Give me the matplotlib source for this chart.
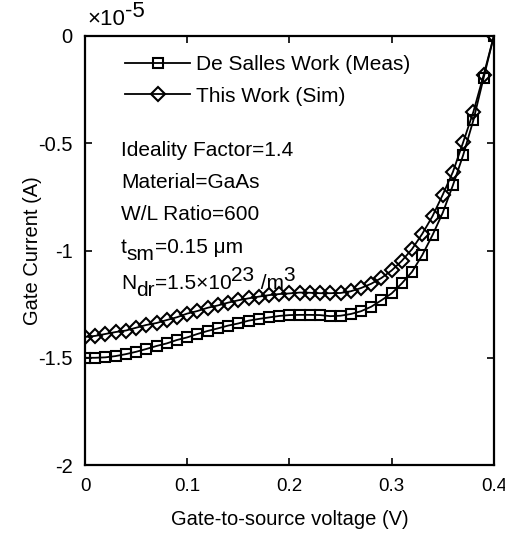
import matplotlib
matplotlib.use("Agg")
import matplotlib.pyplot as plt
from matplotlib.ticker import FuncFormatter

plt.rcParams['font.family'] = ['Liberation Sans', 'DejaVu Sans']
plt.rcParams['font.size'] = 14.5

# gate-to-source voltage (V), 0 to 0.4 in 0.01 steps
vgs = [i / 100 for i in range(41)]

# gate current in units of 1e-5 A
meas = [-1.500, -1.500, -1.498, -1.492, -1.483, -1.472, -1.459, -1.445, -1.433, -1.417,
        -1.405, -1.389, -1.375, -1.363, -1.350, -1.340, -1.327, -1.319, -1.312, -1.305,
        -1.301, -1.300, -1.300, -1.301, -1.306, -1.304, -1.296, -1.283, -1.262, -1.232,
        -1.200, -1.153, -1.099, -1.021, -0.928, -0.824, -0.695, -0.555, -0.392, -0.195,
        0.000]
sim = [-1.403, -1.398, -1.389, -1.380, -1.373, -1.360, -1.347, -1.338, -1.324, -1.311,
       -1.294, -1.282, -1.267, -1.256, -1.243, -1.232, -1.223, -1.215, -1.208, -1.203,
       -1.200, -1.196, -1.197, -1.199, -1.199, -1.198, -1.190, -1.175, -1.155, -1.128,
       -1.093, -1.048, -0.993, -0.922, -0.840, -0.740, -0.633, -0.495, -0.353, -0.182,
       0.000]
scale = 1e-5

# each annotation line: list of (text, vertical shift in points: sub < 0 < sup)
annot = [[("Ideality Factor=1.4", 0)],
         [("Material=GaAs", 0)],
         [("W/L Ratio=600", 0)],
         [("t", 0), ("sm", -5), ("=0.15 μm", 0)],
         [("N", 0), ("dr", -5), ("=1.5×10", 0), ("23", 6), (" /m", 0), ("3", 6)]]


def rich_text(ax, x, y, parts, size):
    # chain pieces so sub/superscripts keep the full font size
    prev, prev_dy = None, 0
    for s, dy in parts:
        if prev is None:
            prev = ax.text(x, y, s, transform=ax.transAxes, ha='left', va='bottom',
                           fontsize=size)
        else:
            prev = ax.annotate(s, xy=(1, 0), xycoords=prev, xytext=(0, dy - prev_dy),
                               textcoords='offset points', ha='left', va='bottom',
                               fontsize=size)
        prev_dy = dy


fig = plt.figure(figsize=(5.06, 5.37), dpi=100)
ax = fig.add_axes([0.168, 0.134, 0.808, 0.799])

ax.plot(vgs, [v * scale for v in meas], color='black', lw=1.3, marker='s', ms=7.5,
        mfc='none', mec='black', mew=1.5, label='De Salles Work (Meas)')
ax.plot(vgs, [v * scale for v in sim], color='black', lw=1.3, marker='D', ms=7.5,
        mfc='none', mec='black', mew=1.5, label='This Work (Sim)')

ax.set_xlim(0, 0.4)
ax.set_ylim(-2e-5, 0)
ax.set_xticks([0, 0.1, 0.2, 0.3, 0.4])
ax.set_yticks([-2e-5, -1.5e-5, -1e-5, -0.5e-5, 0])
ax.xaxis.set_major_formatter(FuncFormatter(lambda v, p: f"{v:g}"))
ax.yaxis.set_major_formatter(FuncFormatter(lambda v, p: f"{round(v / scale, 2):g}"))
ax.tick_params(direction='in', top=True, right=True, length=5, width=1.2)
ax.tick_params(axis='y', pad=9)
ax.tick_params(axis='x', pad=9, labelsize=13.5)
for s in ax.spines.values():
    s.set_linewidth(1.6)

rich_text(ax, 0.006, 1.014, [("×10", 0), ("-5", 6)], 16)

ax.set_xlabel('Gate-to-source voltage (V)', labelpad=11)
ax.set_ylabel('Gate Current (A)', labelpad=-3)

ax.legend(loc='upper left', bbox_to_anchor=(0.078, 0.975), frameon=False, fontsize=15,
          handlelength=3.1, handletextpad=0.3, labelspacing=0.6, borderaxespad=0)

ys = [149, 181, 213, 246, 282]
for parts, y in zip(annot, ys):
    rich_text(ax, 0.088, 1 - (y + 11 - 36) / 429, parts, 15)

fig.savefig('out.png', dpi=100)
